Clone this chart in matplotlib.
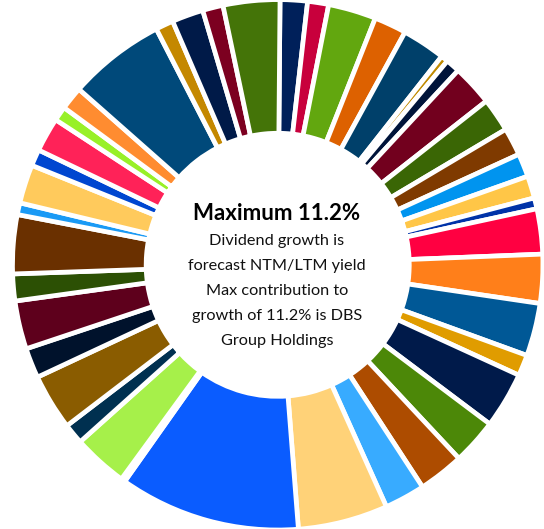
import matplotlib
matplotlib.use("Agg")
import matplotlib.pyplot as plt

# Contribution to dividend growth (%), clockwise from 12 o'clock
values = [1.69, 1.30, 2.96, 2.00, 2.68, 0.45, 0.87, 2.54, 2.09, 1.72,
          1.44, 1.38, 0.68, 2.79, 3.02, 3.27, 1.30, 3.47, 2.82, 2.82,
          2.51, 5.56, 11.2, 0.25, 3.39, 1.27, 3.47, 1.86, 2.99, 1.66,
          3.64, 0.73, 2.40, 1.02, 2.12, 0.90, 1.44, 6.01, 1.10, 1.95,
          1.27, 3.50]
colors = ["#00205a", "#c8003c", "#62a70f", "#dd6100", "#00406a", "#c08a00", "#00143a", "#72001e", "#3a6605", "#7f3a00",
          "#0094ef", "#ffc647", "#0033a8", "#ff0041", "#ff7f1a", "#005896", "#e09c00", "#001a4a", "#4c8808", "#ad4c00",
          "#38abff", "#ffd278", "#0a5cff", "#ff4060", "#a6f04a", "#003050", "#8a5c00", "#00122c", "#5e001c", "#2c5004",
          "#6a3000", "#1a9af5", "#ffca5c", "#0046d0", "#ff2258", "#98f028", "#ff8c30", "#00497a", "#c48800", "#001a48",
          "#7c0020", "#447408"]
title = "Maximum 11.2%"
body = ["Dividend growth is", "forecast NTM/LTM yield", "Max contribution to",
        "growth of 11.2% is DBS", "Group Holdings"]

fig = plt.figure(figsize=(5.44, 5.29), dpi=100)
ax = fig.add_axes([0, 0, 1, 1])
ax.pie(values, colors=colors, startangle=89.5, counterclock=False, radius=1.0,
       wedgeprops=dict(width=0.504, edgecolor="white", linewidth=3.4))
ax.set_xlim(-1.0471, 1.0041)
ax.set_ylim(-0.9962, 0.9985)
ax.set_aspect("auto")
ax.axis("off")

fam = ["Lato", "DejaVu Sans"]
px = 265.2
def ypos(ypix):
    return (264.8 - ypix) / px
xc = (277 - 277.7) / px
ax.text(xc, ypos(213), title, ha="center", va="center", fontsize=16,
        fontweight="bold", family=fam, color="black")
for i, line in enumerate(body):
    ax.text(xc, ypos(241 + 25 * i), line, ha="center", va="center",
            fontsize=11.7, family=fam, color="#111111")

fig.savefig("out.png", dpi=100)
